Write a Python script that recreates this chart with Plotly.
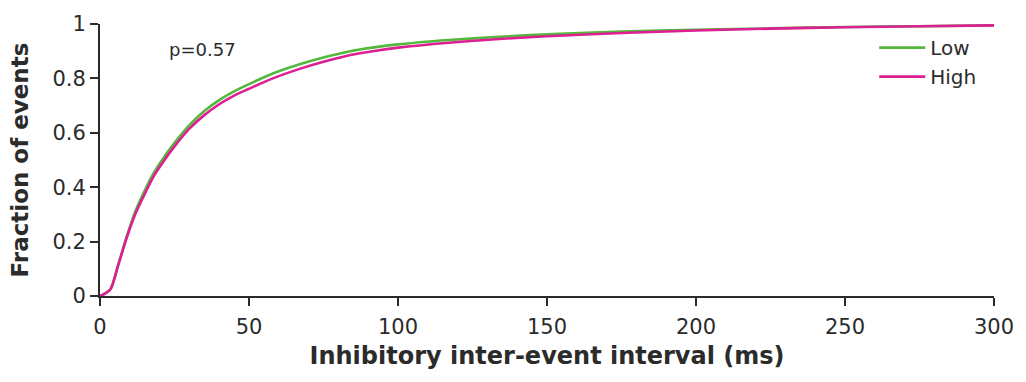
import plotly.graph_objects as go

# Inter-event interval (ms) sample points for the cumulative curves
interval_ms = [0, 1, 3.5, 6, 9, 12, 15, 18, 21, 25, 30, 35, 40, 45, 50, 58, 67, 75,
               84, 92, 100, 117, 134, 150, 175, 200, 225, 250, 275, 300]

# Cumulative fraction of events, low group
frac_low = [0, 0.005, 0.025, 0.11, 0.22, 0.315, 0.388, 0.452, 0.503, 0.563, 0.628,
            0.68, 0.72, 0.752, 0.779, 0.818, 0.852, 0.877, 0.9, 0.914, 0.925, 0.941,
            0.953, 0.962, 0.972, 0.979, 0.984, 0.989, 0.992, 0.995]

# Cumulative fraction of events, high group
frac_high = [0, 0.005, 0.025, 0.11, 0.215, 0.305, 0.375, 0.44, 0.49, 0.55, 0.615,
             0.665, 0.705, 0.737, 0.762, 0.800, 0.835, 0.861, 0.886, 0.901, 0.913,
             0.931, 0.945, 0.955, 0.967, 0.976, 0.983, 0.988, 0.992, 0.995]

x_ticks = [0, 50, 100, 150, 200, 250, 300]
y_ticks = [0, 0.2, 0.4, 0.6, 0.8, 1]
y_tick_text = ["0", "0.2", "0.4", "0.6", "0.8", "1"]

GREEN = "#55B83E"
MAGENTA = "#DC1F92"
INK = "#2b2b2b"
FONT = "DejaVu Sans"

fig = go.Figure()
fig.add_trace(go.Scatter(x=interval_ms, y=frac_low, mode="lines", name="Low",
                         line=dict(color=GREEN, width=2.6, shape="spline", smoothing=0.8)))
fig.add_trace(go.Scatter(x=interval_ms, y=frac_high, mode="lines", name="High",
                         line=dict(color=MAGENTA, width=2.6, shape="spline", smoothing=0.8)))

fig.add_annotation(x=34.5, y=0.906, xref="x", yref="y", text="p=0.57", showarrow=False,
                   font=dict(family=FONT, size=18, color=INK))

axis_common = dict(showline=True, linecolor=INK, linewidth=2, ticks="outside",
                   ticklen=8, tickwidth=2, tickcolor=INK, showgrid=False, zeroline=False,
                   tickfont=dict(family=FONT, size=21, color=INK))

fig.update_xaxes(range=[0, 300], tickvals=x_ticks, ticklabelstandoff=3,
                 title=dict(text="<b>Inhibitory inter-event interval (ms)</b>",
                            font=dict(family=FONT, size=24, color=INK), standoff=9),
                 **axis_common)
fig.update_yaxes(range=[0, 1], tickvals=y_ticks, ticktext=y_tick_text,
                 title=dict(text="<b>Fraction of events</b>",
                            font=dict(family=FONT, size=23, color=INK), standoff=17),
                 **axis_common)

fig.update_layout(
    width=1026, height=382,
    margin=dict(l=100, r=28, t=21, b=86),
    plot_bgcolor="white", paper_bgcolor="white",
    showlegend=True,
    legend=dict(x=0.866, y=0.985, xanchor="left", yanchor="top",
                bgcolor="rgba(0,0,0,0)", font=dict(family=FONT, size=20, color=INK),
                itemwidth=46, tracegroupgap=0),
)

fig.write_html("out.html")
